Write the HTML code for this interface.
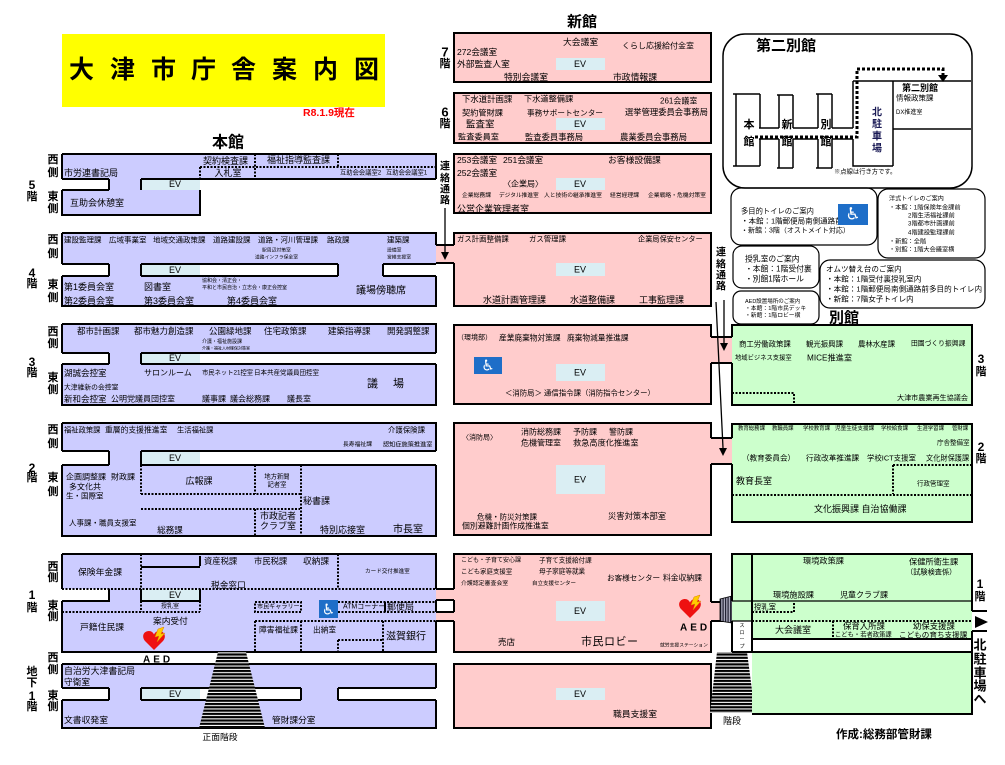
<!DOCTYPE html>
<html><head><meta charset="utf-8"><style>
html,body{margin:0;padding:0;background:#fff;}
svg{display:block}
text{font-family:"Liberation Sans","Noto Sans CJK JP",sans-serif;dominant-baseline:central;fill:#000;font-size:9px;}
.b{font-weight:bold}
.m{text-anchor:middle}
.L{fill:#ccccff}.P{fill:#ffcccc}.G{fill:#ccffcc}.E{fill:#daeef3}
.s{stroke:#000;stroke-width:2;fill:none}
.t{stroke:#000;stroke-width:1.3;fill:none}
.d{stroke:#000;stroke-width:2;stroke-dasharray:2 1.5;fill:none}
.hc{font-family:"DejaVu Sans",sans-serif;fill:#fff;text-anchor:middle}
</style></head><body>
<svg width="1005" height="765" viewBox="0 0 1005 765" xmlns="http://www.w3.org/2000/svg">
<defs>
<pattern id="st" width="4" height="3.3" patternUnits="userSpaceOnUse"><rect width="4" height="3.3" fill="#fff"/><rect width="4" height="2.2" fill="#000"/></pattern>
<pattern id="vs" width="2.5" height="4" patternUnits="userSpaceOnUse"><rect width="2.5" height="4" fill="#aab"/><rect width="1.2" height="4" fill="#223"/></pattern>
<g id="heart"><path d="M11 19 L2 10 C-2 5 1 0 6 0 C8.5 0 10 1.5 11 3.5 C12 1.5 13.5 0 16 0 C21 0 24 5 20 10 Z" fill="#ee1111"/><path d="M15 -2 L21 -4 L18 3 L22 2 L14 11 L16 5 L12 6 Z" fill="#ffcc00" stroke="#e08000" stroke-width="0.5"/></g>
</defs>

<!-- Title -->
<rect x="62" y="34" width="323" height="73" fill="#ffff00"/>
<g class="b" style="font-size:25px">
<text x="69" y="70" style="font-size:25px">大</text><text x="110" y="70" style="font-size:25px">津</text><text x="151" y="70" style="font-size:25px">市</text><text x="191" y="70" style="font-size:25px">庁</text><text x="231" y="70" style="font-size:25px">舎</text><text x="272" y="70" style="font-size:25px">案</text><text x="313" y="70" style="font-size:25px">内</text><text x="354" y="70" style="font-size:25px">図</text>
</g>
<text x="303" y="113" class="b" style="font-size:10.5px;fill:#ff0000">R8.1.9現在</text>
<text x="228" y="143" class="b m" style="font-size:16px">本館</text>
<text x="582" y="22" class="b m" style="font-size:15px">新館</text>
<text x="844" y="318" class="b m" style="font-size:15px">別館</text>

<!-- side labels honkan -->
<g class="b m" style="font-size:11px">
<text x="53" y="160" class="b m" style="font-size:11px">西</text><text x="53" y="173" class="b m" style="font-size:11px">側</text><text x="53" y="197" class="b m" style="font-size:11px">東</text><text x="53" y="209" class="b m" style="font-size:11px">側</text>
<text x="53" y="240" class="b m" style="font-size:11px">西</text><text x="53" y="254" class="b m" style="font-size:11px">側</text><text x="53" y="285" class="b m" style="font-size:11px">東</text><text x="53" y="298" class="b m" style="font-size:11px">側</text>
<text x="53" y="332" class="b m" style="font-size:11px">西</text><text x="53" y="344" class="b m" style="font-size:11px">側</text><text x="53" y="378" class="b m" style="font-size:11px">東</text><text x="53" y="390" class="b m" style="font-size:11px">側</text>
<text x="53" y="430" class="b m" style="font-size:11px">西</text><text x="53" y="444" class="b m" style="font-size:11px">側</text><text x="53" y="478" class="b m" style="font-size:11px">東</text><text x="53" y="492" class="b m" style="font-size:11px">側</text>
<text x="53" y="567" class="b m" style="font-size:11px">西</text><text x="53" y="578" class="b m" style="font-size:11px">側</text><text x="53" y="606" class="b m" style="font-size:11px">東</text><text x="53" y="617" class="b m" style="font-size:11px">側</text>
<text x="53" y="658" class="b m" style="font-size:11px">西</text><text x="53" y="670" class="b m" style="font-size:11px">側</text><text x="53" y="696" class="b m" style="font-size:11px">東</text><text x="53" y="707" class="b m" style="font-size:11px">側</text>
<text x="32" y="185" class="b m" style="font-size:12px">5</text><text x="32" y="197" class="b m" style="font-size:11px">階</text>
<text x="32" y="273" class="b m" style="font-size:12px">4</text><text x="32" y="284" class="b m" style="font-size:11px">階</text>
<text x="32" y="362" class="b m" style="font-size:12px">3</text><text x="32" y="373" class="b m" style="font-size:11px">階</text>
<text x="32" y="468" class="b m" style="font-size:12px">2</text><text x="32" y="478" class="b m" style="font-size:11px">階</text>
<text x="32" y="595" class="b m" style="font-size:12px">1</text><text x="32" y="608" class="b m" style="font-size:11px">階</text>
<text x="32" y="672" class="b m" style="font-size:11px">地</text><text x="32" y="683" class="b m" style="font-size:11px">下</text><text x="32" y="696" class="b m" style="font-size:12px">1</text><text x="32" y="707" class="b m" style="font-size:11px">階</text>
</g>

<!-- ===== HONKAN 5F ===== -->
<rect class="L" x="62" y="154" width="374" height="25"/>
<rect class="L" x="109" y="179" width="32" height="11"/>
<rect class="E" x="141" y="179" width="59" height="11"/>
<rect class="L" x="62" y="190" width="138" height="25"/>
<path class="s" d="M62 154H436V179 M62 154V179 M62 179H109 M141 179H436 M109 179V190 M141 179V190 M62 190H109 M62 190V215H200V190"/>
<path class="d" d="M200 167V179 M255 154V179 M338 154V167 M200 167H436"/>
<text x="64" y="173">市労連書記局</text>
<text x="203" y="161">契約検査課</text>
<text x="228" y="173" class="m">入札室</text>
<text x="267" y="160">福祉指導監査課</text>
<text x="340" y="173" style="font-size:6.3px">互助会会議室2</text>
<text x="386" y="173" style="font-size:6.3px">互助会会議室1</text>
<text x="175" y="184" class="m">EV</text>
<text x="70" y="203">互助会休憩室</text>

<!-- ===== HONKAN 4F ===== -->
<rect class="L" x="62" y="233" width="374" height="31"/>
<rect class="L" x="109" y="264" width="32" height="12"/>
<rect class="E" x="141" y="264" width="59" height="12"/>
<rect class="L" x="338" y="264" width="45" height="12"/>
<rect class="L" x="62" y="276" width="374" height="30"/>
<rect class="P" x="436" y="245" width="19" height="18"/>
<path class="s" d="M62 233H436V245 M62 233V264 M62 264H109 M141 264H338 M383 264H436 M109 264V276 M141 264V276 M338 264V276 M383 264V276 M62 276H109 M141 276H338 M383 276H436 M62 276V306H436V276 M436 245H454 M436 263H454"/>
<g style="font-size:7.5px">
<text x="64" y="240" style="font-size:7.5px">建設監理課</text>
<text x="109" y="240" style="font-size:7.5px">広域事業室</text>
<text x="153" y="240" style="font-size:7.5px">地域交通政策課</text>
<text x="213" y="240" style="font-size:7.5px">道路建設課</text>
<text x="258" y="240" style="font-size:7.5px">道路・河川管理課</text>
<text x="327" y="240" style="font-size:7.5px">路政課</text>
<text x="387" y="240" style="font-size:7.5px">建築課</text>
</g>
<text x="262" y="251" style="font-size:4.8px">駅周辺対策室</text>
<text x="255" y="258" style="font-size:4.8px">道路インフラ保全室</text>
<text x="387" y="251" style="font-size:4.8px">設備室</text>
<text x="387" y="258" style="font-size:4.8px">営繕支援室</text>
<text x="175" y="270" class="m">EV</text>
<text x="64" y="287">第1委員会室</text>
<text x="144" y="287">図書室</text>
<text x="202" y="281" style="font-size:5px">協和会・清正会・</text>
<text x="202" y="288" style="font-size:5px">平和と市民自治・立志会・康正会控室</text>
<text x="356" y="291" style="font-size:10px">議場傍聴席</text>
<text x="64" y="301">第2委員会室</text>
<text x="144" y="301">第3委員会室</text>
<text x="227" y="301">第4委員会室</text>

<!-- ===== HONKAN 3F ===== -->
<rect class="L" x="62" y="324" width="374" height="29"/>
<rect class="L" x="109" y="353" width="32" height="11"/>
<rect class="E" x="141" y="353" width="59" height="11"/>
<rect class="L" x="62" y="364" width="374" height="41"/>
<path class="s" d="M62 324H436V353 M62 324V353 M62 353H109 M141 353H436 M109 353V364 M141 353V364 M62 364H109 M141 364H436 M62 364V405H436V364"/>
<text x="77" y="331" style="font-size:8.5px">都市計画課</text>
<text x="134" y="331" style="font-size:8.5px">都市魅力創造課</text>
<text x="209" y="331" style="font-size:8.5px">公園緑地課</text>
<text x="264" y="331" style="font-size:8.5px">住宅政策課</text>
<text x="328" y="331" style="font-size:8.5px">建築指導課</text>
<text x="387" y="331" style="font-size:8.5px">開発調整課</text>
<text x="202" y="342" style="font-size:5px">介護・福祉施設課</text>
<text x="202" y="348" style="font-size:4px">介護・福祉人材確保対策室</text>
<text x="175" y="358" class="m">EV</text>
<text x="64" y="373" style="font-size:8.5px">湖誠会控室</text>
<text x="144" y="373" style="font-size:8px">サロンルーム</text>
<text x="202" y="373" style="font-size:6.3px">市民ネット21控室</text>
<text x="254" y="373" style="font-size:6.5px">日本共産党議員団控室</text>
<text x="64" y="388" style="font-size:6.8px">大津維新の会控室</text>
<text x="64" y="399" style="font-size:8.5px">新和会控室</text>
<text x="111" y="399" style="font-size:8px">公明党議員団控室</text>
<text x="202" y="399" style="font-size:8px">議事課</text>
<text x="230" y="399" style="font-size:8px">議会総務課</text>
<text x="287" y="399" style="font-size:8px">議長室</text>
<text x="367" y="384" style="font-size:11px">議</text>
<text x="393" y="384" style="font-size:11px">場</text>

<!-- ===== HONKAN 2F ===== -->
<rect class="L" x="62" y="423" width="374" height="28"/>
<rect class="L" x="109" y="451" width="32" height="14"/>
<rect class="E" x="141" y="451" width="59" height="14"/>
<rect class="L" x="62" y="465" width="374" height="71"/>
<path class="s" d="M62 423H436V451 M62 423V451 M62 451H109 M141 451H436 M109 451V465 M141 451V465 M62 465H109 M141 465H436 M62 465V536H436V465"/>
<path class="d" d="M141 465V494 M141 494H300 M255 465V494 M301 465V536 M141 509H300 M255 509V536"/>
<text x="64" y="430" style="font-size:7.3px">福祉政策課</text>
<text x="105" y="430" style="font-size:7.8px">重層的支援推進室</text>
<text x="177" y="430" style="font-size:7.3px">生活福祉課</text>
<text x="388" y="430" style="font-size:7.4px">介護保険課</text>
<text x="343" y="445" style="font-size:5.8px">長寿福祉課</text>
<text x="383" y="445" style="font-size:6.2px">認知症施策推進室</text>
<text x="175" y="458" class="m">EV</text>
<text x="66" y="477" style="font-size:8px">企画調整課</text>
<text x="111" y="477" style="font-size:8px">財政課</text>
<text x="69" y="487" style="font-size:8px">多文化共</text>
<text x="66" y="496" style="font-size:7.5px">生・国際室</text>
<text x="199" y="481" class="m">広報課</text>
<text x="277" y="477" class="m" style="font-size:6.3px">地方新聞</text>
<text x="277" y="485" class="m" style="font-size:6.3px">記者室</text>
<text x="303" y="501">秘書課</text>
<text x="69" y="523" style="font-size:7.5px">人事課・職員支援室</text>
<text x="170" y="530" class="m" style="font-size:8.5px">総務課</text>
<text x="278" y="516" class="m">市政記者</text>
<text x="278" y="526" class="m">クラブ室</text>
<text x="320" y="530">特別応接室</text>
<text x="393" y="530" style="font-size:10px">市長室</text>

<!-- ===== HONKAN 1F ===== -->
<rect class="L" x="62" y="554" width="374" height="35"/>
<rect class="L" x="109" y="589" width="327" height="12"/>
<rect class="E" x="141" y="589" width="59" height="12"/>
<rect class="L" x="62" y="601" width="374" height="51"/>
<rect class="P" x="436" y="589" width="18" height="11"/>
<rect class="P" x="436" y="612" width="18" height="9"/>
<path class="s" d="M62 554H436V589 M62 554V589 M62 601H109V589 M62 601V652H436V621 M436 600V612 M436 589H454 M436 600H454 M436 612H454 M436 621H454 M141 589V601H200V589 M385 602V612 M200 556V566 M141 567H200"/>
<path class="d" d="M62 589H436 M141 554V589 M338 554V589 M141 601V612 M200 601V612 M62 612H200 M255 602H301V612H255Z M338 602H436 M338 612H436 M255 621H436 M255 621V652 M301 621V652 M383 621V652 M338 640H383 M338 640V652"/>
<text x="78" y="572" style="font-size:8.8px">保険年金課</text>
<text x="204" y="561" style="font-size:8.3px">資産税課</text>
<text x="254" y="561" style="font-size:8.3px">市民税課</text>
<text x="303" y="561" style="font-size:8.7px">収納課</text>
<text x="211" y="585" style="font-size:8.7px">税金窓口</text>
<text x="365" y="572" style="font-size:5.6px">カード交付推進室</text>
<text x="175" y="595" class="m">EV</text>
<text x="170" y="607" class="m" style="font-size:6px">授乳室</text>
<text x="257" y="607" style="font-size:6.1px">市民ギャラリー</text>
<rect x="319" y="600" width="19" height="18" fill="#1e6ec8"/>
<text x="328.5" y="609.5" class="hc" style="font-size:15px">♿</text>
<text x="343" y="607" style="font-size:7px">ATMコーナー</text>
<text x="387" y="607">郵便局</text>
<text x="80" y="627" style="font-size:8.8px">戸籍住民課</text>
<text x="153" y="621" style="font-size:8.7px">案内受付</text>
<text x="259" y="630" style="font-size:7.8px">障害福祉課</text>
<text x="313" y="630" style="font-size:7.7px">出納室</text>
<text x="386" y="637" style="font-size:10px">滋賀銀行</text>
<use href="#heart" transform="translate(143,631)"/>
<text x="143" y="660" class="b" style="font-size:10px;letter-spacing:3px">AED</text>

<!-- ===== HONKAN B1 ===== -->
<rect class="L" x="62" y="664" width="374" height="24"/>
<rect class="L" x="109" y="688" width="32" height="12"/>
<rect class="E" x="141" y="688" width="59" height="12"/>
<rect class="L" x="301" y="688" width="37" height="12"/>
<rect class="L" x="62" y="700" width="374" height="28"/>
<path class="s" d="M62 664H436V688 M62 664V688 M62 688H109 M141 688H301 M338 688H436 M109 688V700 M141 688V700 M301 688V700 M338 688V700 M62 700H109 M141 700H301 M338 700H436 M62 700V728H436V700"/>
<text x="64" y="671" style="font-size:8.9px">自治労大津書記局</text>
<text x="64" y="682" style="font-size:8.7px">守衛室</text>
<text x="175" y="694" class="m">EV</text>
<text x="64" y="720" style="font-size:8.8px">文書収発室</text>
<text x="272" y="720" style="font-size:8.7px">管財課分室</text>
<polygon points="218,652 246,652 265,728 199,728" fill="url(#st)"/>
<text x="220" y="737" class="m" style="font-size:8.8px">正面階段</text>

<!-- ===== SHINKAN ===== -->
<g class="b m" style="font-size:12px">
<text x="445" y="52" class="b m" style="font-size:13px">7</text><text x="445" y="64" class="b m" style="font-size:11px">階</text>
<text x="445" y="112" class="b m" style="font-size:13px">6</text><text x="445" y="124" class="b m" style="font-size:11px">階</text>
</g>
<!-- 7F -->
<rect class="P" x="454" y="33" width="257" height="49"/>
<path class="s" d="M454 33H711V82H454Z"/>
<rect class="E" x="556" y="58" width="49" height="12"/>
<text x="580" y="64" class="m">EV</text>
<text x="563" y="42" style="font-size:8.8px">大会議室</text>
<text x="622" y="46" style="font-size:8px">くらし応援給付金室</text>
<text x="457" y="52" style="font-size:8.6px">272会議室</text>
<text x="457" y="64" style="font-size:8.8px">外部監査人室</text>
<text x="504" y="77" style="font-size:8.8px">特別会議室</text>
<text x="613" y="77" style="font-size:8.8px">市政情報課</text>
<!-- 6F -->
<rect class="P" x="454" y="93" width="257" height="50"/>
<path class="s" d="M454 93H711V143H454Z"/>
<rect class="E" x="556" y="118" width="49" height="12"/>
<text x="580" y="124" class="m">EV</text>
<text x="462" y="99" style="font-size:8.4px">下水道計画課</text>
<text x="524" y="99" style="font-size:8.2px">下水道整備課</text>
<text x="660" y="101" style="font-size:8px">261会議室</text>
<text x="462" y="113" style="font-size:8.2px">契約管財課</text>
<text x="527" y="113" style="font-size:7.6px">事務サポートセンター</text>
<text x="625" y="112" style="font-size:8.3px">選挙管理委員会事務局</text>
<text x="466" y="125" style="font-size:9.5px">監査室</text>
<text x="458" y="137" style="font-size:8.2px">監査委員室</text>
<text x="525" y="137" style="font-size:8.3px">監査委員事務局</text>
<text x="620" y="137" style="font-size:8.4px">農業委員会事務局</text>
<!-- 5F -->
<rect class="P" x="454" y="154" width="257" height="59"/>
<path class="s" d="M454 154H711V213H454Z"/>
<rect class="E" x="556" y="178" width="49" height="12"/>
<text x="580" y="184" class="m">EV</text>
<text x="457" y="160" style="font-size:8.6px">253会議室</text>
<text x="503" y="160" style="font-size:8.6px">251会議室</text>
<text x="608" y="160" style="font-size:8.8px">お客様設備課</text>
<text x="457" y="173" style="font-size:8.6px">252会議室</text>
<text x="503" y="184" style="font-size:8px">〈企業局〉</text>
<text x="462" y="196" style="font-size:5.8px">企業総務課</text>
<text x="499" y="196" style="font-size:5.7px">デジタル推進室</text>
<text x="544" y="196" style="font-size:5.8px">人と技術の継承推進室</text>
<text x="610" y="196" style="font-size:5.8px">経営経理課</text>
<text x="648" y="196" style="font-size:5.8px">企業戦略・危機対策室</text>
<text x="457" y="209">公営企業管理者室</text>
<!-- connector left -->
<g>
<text x="445" y="167" class="b m" style="font-size:10px">連</text><text x="445" y="179" class="b m" style="font-size:10px">絡</text><text x="445" y="190" class="b m" style="font-size:10px">通</text><text x="445" y="201" class="b m" style="font-size:10px">路</text>
</g>
<path class="t" d="M445 208V252"/>
<polygon points="441,252 449,252 445,260" fill="#000"/>
<!-- 4F -->
<rect class="P" x="454" y="233" width="257" height="73"/>
<path class="s" d="M454 245V233H711V306H454V263"/>
<rect class="E" x="556" y="263" width="49" height="13"/>
<text x="580" y="269.5" class="m">EV</text>
<text x="457" y="239" style="font-size:7.4px">ガス計画整備課</text>
<text x="529" y="239" style="font-size:7.4px">ガス管理課</text>
<text x="638" y="239" style="font-size:7.2px">企業局保安センター</text>
<text x="483" y="300">水道計画管理課</text>
<text x="570" y="300">水道整備課</text>
<text x="639" y="300">工事監理課</text>
<!-- 3F -->
<rect class="P" x="454" y="325" width="257" height="79"/>
<rect class="P" x="711" y="337" width="21" height="26"/>
<path class="s" d="M711 337V325H454V404H711V363 M711 337H732 M711 363H732"/>
<rect class="E" x="556" y="364" width="49" height="17"/>
<text x="580" y="372.5" class="m">EV</text>
<text x="457" y="338" style="font-size:7px">（環境部）</text>
<text x="499" y="338" style="font-size:7.7px">産業廃棄物対策課</text>
<text x="567" y="338" style="font-size:7.7px">廃棄物減量推進課</text>
<rect x="474" y="357" width="28" height="17" fill="#1e6ec8"/>
<text x="488" y="365.5" class="hc" style="font-size:15px">♿</text>
<text x="505" y="393" style="font-size:7.4px">＜消防局＞ 通信指令課（消防指令センター）</text>
<!-- 2F -->
<rect class="P" x="454" y="423" width="257" height="112"/>
<rect class="P" x="711" y="438" width="21" height="26"/>
<path class="s" d="M711 438V423H454V535H711V464 M711 438H732 M711 464H732"/>
<rect class="E" x="556" y="465" width="49" height="29"/>
<text x="580" y="479.5" class="m">EV</text>
<text x="462" y="438" style="font-size:7px">〈消防局〉</text>
<text x="521" y="432" style="font-size:8px">消防総務課</text>
<text x="573" y="432" style="font-size:8px">予防課</text>
<text x="609" y="432" style="font-size:8px">警防課</text>
<text x="521" y="443" style="font-size:8px">危機管理室</text>
<text x="573" y="443" style="font-size:8.2px">救急高度化推進室</text>
<text x="477" y="517" style="font-size:7.5px">危機・防災対策課</text>
<text x="462" y="526" style="font-size:7.9px">個別避難計画作成推進室</text>
<text x="608" y="516" style="font-size:8.3px">災害対策本部室</text>
<!-- 1F -->
<rect class="P" x="454" y="554" width="257" height="98"/>
<rect class="P" x="711" y="602" width="21" height="19"/>
<path class="s" d="M454 589V554H711V602 M711 621V652H454V621 M454 600V612 M711 602H732 M711 621H732"/>
<polygon points="720,599 732,596 732,623 720,621" fill="url(#vs)" stroke="#000" stroke-width="0.8"/>
<rect class="E" x="556" y="601" width="49" height="20"/>
<text x="580" y="611" class="m">EV</text>
<text x="461" y="561" style="font-size:6px">こども・子育て安心課</text>
<text x="539" y="561" style="font-size:6.6px">子育て支援給付課</text>
<text x="461" y="572" style="font-size:6.4px">こども家庭支援室</text>
<text x="539" y="572" style="font-size:6.6px">母子家庭等就業</text>
<text x="461" y="584" style="font-size:5.9px">介護認定審査会室</text>
<text x="532" y="584" style="font-size:5.5px">自立支援センター</text>
<text x="607" y="578" style="font-size:7.6px">お客様センター</text>
<text x="663" y="578" style="font-size:7.8px">料金収納課</text>
<use href="#heart" transform="translate(679,599)"/>
<text x="680" y="628" class="b" style="font-size:10px;letter-spacing:3px">AED</text>
<text x="498" y="642" style="font-size:8.5px">売店</text>
<text x="581" y="642" style="font-size:11px;letter-spacing:0.5px">市民ロビー</text>
<text x="660" y="646" style="font-size:4.8px">就労支援ステーション</text>
<!-- B1 -->
<rect class="P" x="454" y="664" width="257" height="64"/>
<path class="s" d="M454 664H711V728H454Z"/>
<rect class="E" x="556" y="688" width="49" height="12"/>
<text x="580" y="694" class="m">EV</text>
<text x="613" y="714" style="font-size:8.8px">職員支援室</text>
<polygon points="717,652 747,652 755,713 710,713" fill="url(#st)"/>
<text x="732" y="721" class="m" style="font-size:9px">階段</text>
<!-- connector right -->
<text x="721" y="253" class="b m" style="font-size:10px">連</text><text x="721" y="265" class="b m" style="font-size:10px">絡</text><text x="721" y="276" class="b m" style="font-size:10px">通</text><text x="721" y="287" class="b m" style="font-size:10px">路</text>
<path class="t" d="M724 300V343 M716 302L723 448"/>
<polygon points="720,343 728,343 724,351" fill="#000"/>
<polygon points="719,448 727,448 723,456" fill="#000"/>

<!-- ===== 第二別館 map ===== -->
<rect x="723" y="34" width="249" height="154" rx="22" fill="none" stroke="#000" stroke-width="1.5"/>
<text x="756" y="46" class="b" style="font-size:15px">第二別館</text>
<path stroke="#000" stroke-width="1.5" fill="none" d="M733 94H760 M736 94V166 M733 166H760 M760 94V128 M760 139V166 M759 128H779 M759 139H779 M777 95H793 M779 95V128 M779 139V168 M793 95V128 M793 139V168 M777 168H793 M793 128H818 M793 139H818 M816 94H832 M818 94V128 M818 139V168 M832 94V128 M832 139V168 M816 168H832 M832 128H853 M832 139H853 M853 81V128 M853 139V166H893 M853 81H971 M893 81V166 M893 129H971"/>
<path d="M755 137H857V69H943V75" fill="none" stroke="#000" stroke-width="3" stroke-dasharray="3 2"/>
<polygon points="938,75 948,75 943,82" fill="#000"/>
<text x="749" y="125" class="b m" style="font-size:11px">本</text><text x="749" y="142" class="b m" style="font-size:11px">館</text>
<text x="787" y="125" class="b m" style="font-size:11px">新</text><text x="787" y="142" class="b m" style="font-size:11px">館</text>
<text x="826" y="125" class="b m" style="font-size:11px">別</text><text x="826" y="142" class="b m" style="font-size:11px">館</text>
<text x="877" y="113" class="b m" style="font-size:10px;fill:#1a1a55">北</text><text x="877" y="125" class="b m" style="font-size:10px;fill:#1a1a55">駐</text><text x="877" y="137" class="b m" style="font-size:10px;fill:#1a1a55">車</text><text x="877" y="149" class="b m" style="font-size:10px;fill:#1a1a55">場</text>
<text x="902" y="88" class="b" style="font-size:9px">第二別館</text>
<text x="896" y="98" style="font-size:7.5px">情報政策課</text>
<text x="896" y="113" style="font-size:6px">DX推進室</text>
<text x="834" y="172" style="font-size:6.3px">※点線は行き方です。</text>

<!-- ===== info boxes ===== -->
<g fill="none" stroke="#000" stroke-width="1.2">
<rect x="731" y="188" width="146" height="57" rx="10"/>
<rect x="878" y="189" width="107" height="69" rx="10"/>
<rect x="733" y="246" width="86" height="42" rx="9"/>
<rect x="820" y="260" width="165" height="48" rx="10"/>
<rect x="733" y="291" width="86" height="33" rx="8"/>
</g>
<text x="741" y="211" style="font-size:7.3px">多目的トイレのご案内</text>
<text x="741" y="221" style="font-size:7.5px">・本館：1階郵便局南側通路前</text>
<text x="741" y="231" style="font-size:7px">・新館：3階（オストメイト対応）</text>
<rect x="838" y="204" width="30" height="21" fill="#1e6ec8"/>
<text x="853" y="214.5" class="hc" style="font-size:17px">♿</text>
<text x="889" y="199" style="font-size:6.1px">洋式トイレのご案内</text>
<text x="889" y="208" style="font-size:6.2px">・本館：1階保険年金課前</text>
<text x="908" y="216" style="font-size:6.2px">2階生活福祉課前</text>
<text x="908" y="224" style="font-size:6.2px">3階都市計画課前</text>
<text x="908" y="233" style="font-size:6.2px">4階建設監理課前</text>
<text x="889" y="242" style="font-size:6.2px">・新館：全階</text>
<text x="889" y="250" style="font-size:6.2px">・別館：1階大会議室横</text>
<text x="745" y="259" style="font-size:7.8px">授乳室のご案内</text>
<text x="745" y="269" style="font-size:7.8px">・本館：1階受付裏</text>
<text x="745" y="279" style="font-size:7.8px">・別館1階ホール</text>
<text x="826" y="269" style="font-size:7.6px">オムツ替え台のご案内</text>
<text x="826" y="279" style="font-size:7.6px">・本館：1階受付裏授乳室内</text>
<text x="826" y="289" style="font-size:7.6px">・本館：1階郵便局南側通路前多目的トイレ内</text>
<text x="826" y="299" style="font-size:7.6px">・新館：7階女子トイレ内</text>
<text x="745" y="302" style="font-size:5.5px">AED設置場所のご案内</text>
<text x="745" y="309" style="font-size:5.8px">・本館：1階市民デッキ</text>
<text x="745" y="316" style="font-size:5.8px">・新館：1階ロビー横</text>

<!-- ===== BEKKAN 3F ===== -->
<rect class="G" x="732" y="325" width="240" height="80"/>
<path class="s" d="M732 337V325H972V405H732V363"/>
<path class="d" d="M732 393H794V405"/>
<text x="739" y="344" style="font-size:7.4px">商工労働政策課</text>
<text x="806" y="344" style="font-size:7.4px">観光振興課</text>
<text x="858" y="344" style="font-size:7.4px">農林水産課</text>
<text x="911" y="344" style="font-size:6.8px">田園づくり振興課</text>
<text x="735" y="358" style="font-size:6.3px">地域ビジネス支援室</text>
<text x="807" y="358" style="font-size:8.2px">MICE推進室</text>
<text x="897" y="398" style="font-size:7.1px">大津市農業再生協議会</text>
<text x="981" y="359" class="b m" style="font-size:12px">3</text><text x="981" y="372" class="b m" style="font-size:11px">階</text>

<!-- ===== BEKKAN 2F ===== -->
<rect class="G" x="732" y="424" width="240" height="98"/>
<path class="s" d="M732 438V424H972V522H732V464"/>
<path class="d" d="M893 465H972 M893 465V494 M732 495H972"/>
<g style="font-size:5.4px">
<text x="738" y="429" style="font-size:5.4px">教育総務課</text>
<text x="772" y="429" style="font-size:5.4px">教職員課</text>
<text x="803" y="429" style="font-size:5.4px">学校教育課</text>
<text x="835" y="429" style="font-size:5.6px">児童生徒支援課</text>
<text x="881" y="429" style="font-size:5.4px">学校給食課</text>
<text x="917" y="429" style="font-size:5.4px">生涯学習課</text>
<text x="952" y="429" style="font-size:5.4px">管財課</text>
</g>
<text x="937" y="443" style="font-size:6.5px">庁舎整備室</text>
<text x="742" y="458" style="font-size:7.6px">（教育委員会）</text>
<text x="806" y="458" style="font-size:7.6px">行政改革推進課</text>
<text x="867" y="458" style="font-size:7.4px">学校ICT支援室</text>
<text x="926" y="458" style="font-size:7.2px">文化財保護課</text>
<text x="736" y="481" style="font-size:9px">教育長室</text>
<text x="917" y="484" style="font-size:6.5px">行政管理室</text>
<text x="814" y="509" style="font-size:9px">文化振興課 自治協働課</text>
<text x="981" y="447" class="b m" style="font-size:12px">2</text><text x="981" y="459" class="b m" style="font-size:11px">階</text>

<!-- ===== BEKKAN 1F ===== -->
<rect class="G" x="732" y="554" width="240" height="85"/>
<rect x="732" y="621" width="20" height="31" fill="#fff"/>
<rect x="752" y="639" width="220" height="13" fill="#fff"/>
<rect class="G" x="752" y="652" width="220" height="62"/>
<path class="s" d="M732 601V554H972V611 M972 631V714H752 M752 554V652 M732 621V652 M732 652H972 M752 639H972 M972 611H987 M972 631H987"/>
<path class="t" d="M732 601H972 M732 621H752"/>
<path class="d" d="M752 621H972 M752 612H794V601 M833 621V639"/>
<polygon points="975,616 988,622 975,628" fill="#000"/>
<text x="742" y="626" class="m" style="font-size:5px">ス</text><text x="742" y="633" class="m" style="font-size:5px">ロ</text><text x="742" y="640" class="m" style="font-size:5px">ー</text><text x="742" y="647" class="m" style="font-size:5px">プ</text>
<text x="803" y="561" style="font-size:8.2px">環境政策課</text>
<text x="909" y="562" style="font-size:8.2px">保健所衛生課</text>
<text x="906" y="572" style="font-size:7.2px">（試験検査係）</text>
<text x="773" y="595" style="font-size:8.2px">環境施設課</text>
<text x="840" y="595" style="font-size:8px">児童クラブ課</text>
<text x="754" y="607" style="font-size:7.3px">授乳室</text>
<text x="775" y="630" style="font-size:9px">大会議室</text>
<text x="843" y="626" style="font-size:8.4px">保育入所課</text>
<text x="835" y="635" style="font-size:6.3px">こども・若者政策課</text>
<text x="913" y="626" style="font-size:8.4px">幼保支援課</text>
<text x="899" y="635" style="font-size:7.6px">こどもの育ち支援課</text>
<text x="980" y="584" class="b m" style="font-size:12px">1</text><text x="980" y="597" class="b m" style="font-size:11px">階</text>
<text x="980" y="645" class="b m" style="font-size:13px">北</text><text x="980" y="659" class="b m" style="font-size:13px">駐</text><text x="980" y="673" class="b m" style="font-size:13px">車</text><text x="980" y="686" class="b m" style="font-size:13px">場</text><text x="980" y="699" class="b m" style="font-size:13px">へ</text>

<text x="836" y="735" class="b" style="font-size:11.5px">作成:総務部管財課</text>
</svg>
</body></html>
